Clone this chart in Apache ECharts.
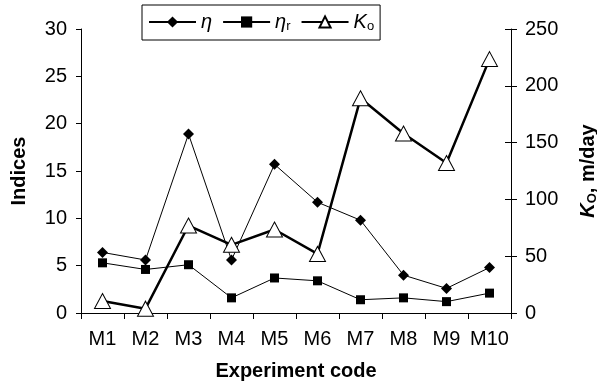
<!DOCTYPE html>
<html>
<head>
<meta charset="utf-8">
<script src="https://cdn.jsdelivr.net/npm/echarts@6/dist/echarts.min.js"></script>
<style>html,body{margin:0;padding:0;background:#fff}#c{width:597px;height:385px}</style>
</head>
<body>
<div id="c"></div>
<script>
var categories = ['M1','M2','M3','M4','M5','M6','M7','M8','M9','M10'];
var eta  = [6.4, 5.6, 18.9, 5.6, 15.7, 11.7, 9.8, 4.0, 2.6, 4.8];
var etaR = [5.3, 4.6, 5.1, 1.6, 3.7, 3.4, 1.4, 1.6, 1.2, 2.1];
var ko   = [10.5, 3.8, 77, 60, 73.5, 52, 189, 158, 132, 223.5];
var leftTicks = {min: 0, max: 30, interval: 5};
var rightTicks = {min: 0, max: 250, interval: 50};

var FONT = '"Liberation Sans", Arial, Helvetica, sans-serif';
var chart = echarts.init(document.getElementById('c'), null, {renderer: 'canvas'});
var black = '#000';
var labelStyle = {color: black, fontFamily: FONT, fontSize: 20};
var titleStyle = {color: black, fontFamily: FONT, fontSize: 20, fontWeight: 'bold'};

chart.setOption({
  animation: false,
  backgroundColor: '#fff',
  grid: {left: 81, right: 86, top: 29, bottom: 72, containLabel: false, outerBoundsMode: 'none'},
  legend: {
    left: 142, top: 5,
    padding: [7, 6],
    itemWidth: 47, itemHeight: 14, itemGap: 10,
    borderColor: black, borderWidth: 1, backgroundColor: '#fff',
    data: ['η', 'ηr', 'Ko'],
    formatter: function (n) {
      if (n === 'η') return '{i|η}';
      if (n === 'ηr') return '{i|η}{s|r}';
      return '{i|K}{s|o}';
    },
    textStyle: {
      color: black, fontFamily: FONT, fontSize: 20,
      rich: {
        i: {fontFamily: FONT, fontSize: 20, fontStyle: 'italic', lineHeight: 22, color: black},
        s: {fontFamily: FONT, fontSize: 13, lineHeight: 12, verticalAlign: 'bottom', color: black}
      }
    }
  },
  xAxis: {
    type: 'category', data: categories, boundaryGap: true,
    name: 'Experiment code', nameLocation: 'middle', nameGap: 48,
    nameTextStyle: titleStyle,
    axisLine: {lineStyle: {color: black, width: 1}},
    axisTick: {show: true, alignWithLabel: false, interval: 0, length: 6, lineStyle: {color: black}},
    axisLabel: Object.assign({margin: 16, interval: 0}, labelStyle),
    splitLine: {show: false}
  },
  yAxis: [
    {
      type: 'value', position: 'left',
      min: leftTicks.min, max: leftTicks.max, interval: leftTicks.interval,
      name: 'Indices', nameLocation: 'middle', nameGap: 52,
      nameTextStyle: titleStyle,
      axisLine: {show: true, lineStyle: {color: black}},
      axisTick: {show: true, length: 5, lineStyle: {color: black}},
      axisLabel: Object.assign({margin: 14}, labelStyle),
      splitLine: {show: false}
    },
    {
      type: 'value', position: 'right',
      min: rightTicks.min, max: rightTicks.max, interval: rightTicks.interval,
      name: '{k|K}{s|O}{n|, m/day}', nameLocation: 'middle', nameGap: 66,
      nameTextStyle: {
        color: black, fontFamily: FONT, fontSize: 20, fontWeight: 'bold',
        rich: {
          k: {fontFamily: FONT, fontSize: 20, fontWeight: 'bold', fontStyle: 'italic', lineHeight: 22, color: black},
          s: {fontFamily: FONT, fontSize: 13, fontWeight: 'bold', lineHeight: 12, verticalAlign: 'bottom', color: black},
          n: {fontFamily: FONT, fontSize: 20, fontWeight: 'bold', lineHeight: 22, color: black}
        }
      },
      axisLine: {show: true, lineStyle: {color: black}},
      axisTick: {show: true, length: 6, lineStyle: {color: black}},
      axisLabel: Object.assign({margin: 14}, labelStyle),
      splitLine: {show: false}
    },
    {
      type: 'value', position: 'right',
      min: rightTicks.min, max: rightTicks.max, interval: rightTicks.interval,
      axisLine: {show: false},
      axisTick: {show: true, inside: true, length: 6, lineStyle: {color: black}},
      axisLabel: {show: false},
      splitLine: {show: false}
    }
  ],
  series: [
    {
      name: 'η', type: 'line', yAxisIndex: 0, data: eta,
      symbol: 'diamond', symbolSize: 11, showAllSymbol: true,
      lineStyle: {color: black, width: 1},
      itemStyle: {color: black, borderColor: black, borderWidth: 0},
      z: 2
    },
    {
      name: 'ηr', type: 'line', yAxisIndex: 0, data: etaR,
      symbol: 'rect', symbolSize: 9, showAllSymbol: true,
      lineStyle: {color: black, width: 1},
      itemStyle: {color: black, borderColor: black, borderWidth: 0},
      z: 3
    },
    {
      name: 'Ko', type: 'line', yAxisIndex: 1, data: ko,
      symbol: 'triangle', symbolSize: [16, 15], showAllSymbol: true,
      lineStyle: {color: black, width: 2.5},
      itemStyle: {color: '#fff', borderColor: black, borderWidth: 1},
      z: 4
    }
  ]
});
</script>
</body>
</html>
